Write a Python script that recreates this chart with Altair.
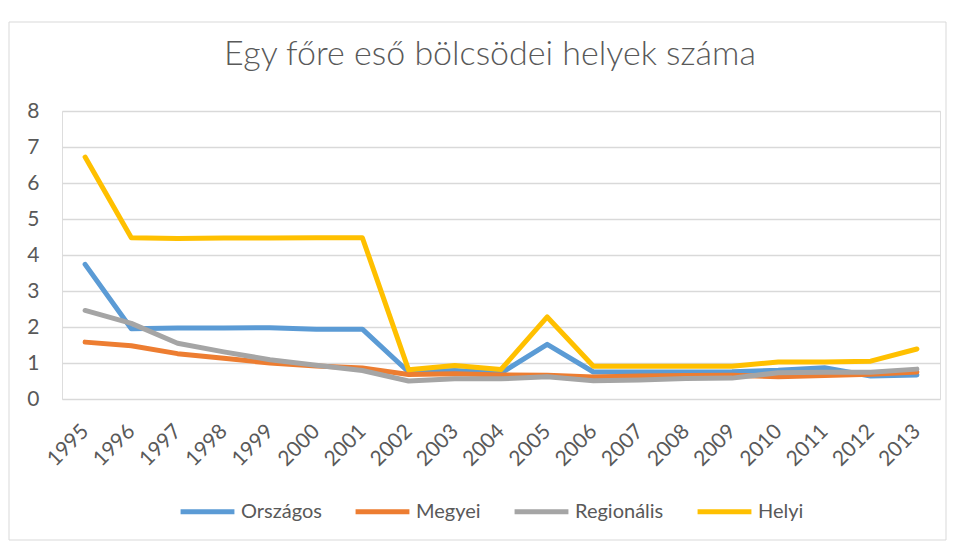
import altair as alt
import pandas as pd

years = [str(y) for y in range(1995, 2014)]
series_names = ["Országos", "Megyei", "Regionális", "Helyi"]
colors = ["#5B9BD5", "#ED7D31", "#A5A5A5", "#FFC000"]

orszagos = [3.74, 1.95, 1.97, 1.97, 1.98, 1.94, 1.94, 0.75, 0.79, 0.72, 1.52, 0.75, 0.75, 0.75, 0.76, 0.80, 0.87, 0.64, 0.67]
megyei = [1.58, 1.48, 1.26, 1.13, 1.00, 0.92, 0.86, 0.68, 0.70, 0.67, 0.66, 0.61, 0.64, 0.65, 0.66, 0.62, 0.65, 0.69, 0.75]
regionalis = [2.46, 2.10, 1.55, 1.31, 1.09, 0.94, 0.79, 0.50, 0.56, 0.56, 0.62, 0.51, 0.53, 0.57, 0.58, 0.73, 0.74, 0.74, 0.83]
helyi = [6.72, 4.48, 4.46, 4.47, 4.47, 4.48, 4.48, 0.81, 0.93, 0.82, 2.28, 0.91, 0.91, 0.91, 0.91, 1.03, 1.03, 1.05, 1.39]

rows = []
for i, (name, vals) in enumerate(zip(series_names, [orszagos, megyei, regionalis, helyi])):
    for y, v in zip(years, vals):
        rows.append({"Év": y, "Sorozat": name, "Érték": v, "rend": i})
df = pd.DataFrame(rows)

FONT = "Lato"
GREY = "#595959"

border = alt.Chart(alt.Data(values=[{"a": 1}])).mark_rect(
    fill="white", fillOpacity=0, stroke="#d9d9d9", strokeWidth=1
).encode(
    x=alt.value(-53), x2=alt.value(884), y=alt.value(-89), y2=alt.value(429)
)

lines = alt.Chart(df).mark_line(strokeWidth=5, strokeCap="round", strokeJoin="round").encode(
    x=alt.X("Év:O", scale=alt.Scale(type="point", padding=0.5),
            axis=alt.Axis(title=None, labelAngle=-45, labelAlign="right", labelBaseline="middle",
                          labelPadding=29, ticks=False, domain=False, grid=False,
                          labelFont=FONT, labelFontSize=21, labelColor=GREY)),
    y=alt.Y("Érték:Q", scale=alt.Scale(domain=[0, 8], nice=False),
            axis=alt.Axis(title=None, values=list(range(0, 9)), ticks=False, domain=False,
                          grid=True, gridColor="#d9d9d9", gridWidth=1.5,
                          labelPadding=23, labelFont=FONT, labelFontSize=21, labelColor=GREY)),
    color=alt.Color("Sorozat:N", sort=series_names,
                    scale=alt.Scale(domain=series_names, range=colors),
                    legend=alt.Legend(title=None, orient="none", direction="horizontal",
                                      legendX=116, legendY=371, symbolType="stroke",
                                      symbolSize=2900, symbolStrokeWidth=5,
                                      labelFont=FONT, labelFontSize=20, labelColor=GREY,
                                      labelOffset=4, columnPadding=23)),
    order=alt.Order("rend:Q"),
    detail="Sorozat:N",
)

chart = alt.layer(border, lines).properties(
    width=878, height=288,
    autosize=alt.AutoSizeParams(type="none"),
    padding={"left": 54, "top": 103, "right": 8, "bottom": 142},
    title=alt.TitleParams("Egy főre eső bölcsödei helyek száma", anchor="middle", frame="group",
                          font=FONT, fontSize=34, fontWeight=300, color=GREY, dx=-11,
                          offset=-77, baseline="alphabetic"),
).configure_view(stroke=None).configure(background="white")

chart.save("out.html", embed_options={"renderer": "svg", "actions": False})
